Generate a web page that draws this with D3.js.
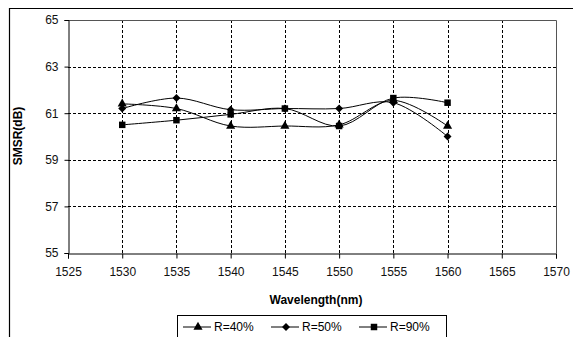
<!DOCTYPE html>
<html>
<head>
<meta charset="utf-8">
<script src="https://cdn.jsdelivr.net/npm/d3@7"></script>
<style>
  body { margin: 0; background: #fff; }
  svg { display: block; font-family: "Liberation Sans", Arial, sans-serif; }
</style>
</head>
<body>
<svg id="chart" width="573" height="337"></svg>
<script>
// wavelengths (nm) and SMSR values (dB)
const wavelengths = [1530, 1535, 1540, 1545, 1550, 1555, 1560];
const r40 = [61.4, 61.2, 60.45, 60.45, 60.5, 61.55, 60.45];
const r50 = [61.2, 61.65, 61.15, 61.2, 61.2, 61.45, 60.0];
const r90 = [60.5, 60.7, 60.95, 61.2, 60.45, 61.65, 61.45];
const xTicks = [1525, 1530, 1535, 1540, 1545, 1550, 1555, 1560, 1565, 1570];
const yTicks = [55, 57, 59, 61, 63, 65];

const series = [
  { name: "R=40%", values: r40, symbol: d3.symbolTriangle, size: 36 },
  { name: "R=50%", values: r50, symbol: d3.symbolDiamond2 || d3.symbolDiamond, size: 40 },
  { name: "R=90%", values: r90, symbol: d3.symbolSquare, size: 42 }
];

const svg = d3.select("#chart");
const pLeft = 68, pRight = 556, pTop = 20, pBottom = 253;

const x = d3.scaleLinear().domain([1525, 1570]).range([pLeft, pRight]);
const y = d3.scaleLinear().domain([55, 65]).range([pBottom, pTop]);

// outer frame (only left/top visible in the picture)
svg.append("path")
    .attr("d", "M9.5,337 V8.5 H573")
    .attr("fill", "none")
    .attr("stroke", "#000")
    .attr("stroke-width", 1.2);

// grid
const grid = svg.append("g").attr("stroke", "#000").attr("stroke-dasharray", "3,2").attr("stroke-width", 1);
grid.selectAll(".vg")
    .data(xTicks.filter(t => t > 1525 && t < 1570))
    .join("line")
    .attr("x1", d => Math.round(x(d)) + 0.5).attr("x2", d => Math.round(x(d)) + 0.5)
    .attr("y1", pTop).attr("y2", pBottom);
grid.selectAll(".hg")
    .data(yTicks.filter(t => t > 55 && t < 65))
    .join("line")
    .attr("y1", d => Math.round(y(d)) + 0.5).attr("y2", d => Math.round(y(d)) + 0.5)
    .attr("x1", pLeft).attr("x2", pRight);

// plot border top/right
svg.append("path")
    .attr("d", `M${pLeft},${pTop + 0.5} H${pRight + 0.5} V${pBottom}`)
    .attr("fill", "none")
    .attr("stroke", "#555")
    .attr("stroke-width", 1);

// axes
const xAxis = svg.append("g")
    .attr("transform", `translate(0,${pBottom + 0.5})`)
    .call(d3.axisBottom(x).tickValues(xTicks).tickFormat(d3.format("d")).tickSize(5).tickPadding(9));
const yAxis = svg.append("g")
    .attr("transform", `translate(${pLeft + 0.5},0)`)
    .call(d3.axisLeft(y).tickValues(yTicks).tickSize(4).tickPadding(6));
[xAxis, yAxis].forEach(g => {
  g.select(".domain").attr("stroke", "#000");
  g.selectAll(".tick line").attr("stroke", "#000");
  g.selectAll("text").attr("font-size", 12).attr("fill", "#111")
    .attr("font-family", "'Liberation Sans', Arial, sans-serif");
});

// axis titles
svg.append("text")
    .attr("x", 316).attr("y", 304)
    .attr("text-anchor", "middle")
    .attr("font-size", 12).attr("font-weight", "bold")
    .text("Wavelength(nm)");
svg.append("text")
    .attr("transform", "translate(22,136) rotate(-90)")
    .attr("text-anchor", "middle")
    .attr("font-size", 12).attr("font-weight", "bold")
    .text("SMSR(dB)");

// lines
const line = d3.line()
    .x((d, i) => x(wavelengths[i]))
    .y(d => y(d))
    .curve(d3.curveCatmullRom.alpha(0.5));

series.forEach(s => {
  svg.append("path")
      .attr("d", line(s.values))
      .attr("fill", "none")
      .attr("stroke", "#000")
      .attr("stroke-width", 1);
});
series.forEach(s => {
  svg.append("g").selectAll("path")
      .data(s.values)
      .join("path")
      .attr("transform", (d, i) => `translate(${x(wavelengths[i])},${y(d)})`)
      .attr("d", d3.symbol(s.symbol, s.size))
      .attr("fill", "#000");
});

// legend
const legend = svg.append("g");
legend.append("rect")
    .attr("x", 177.5).attr("y", 315.5)
    .attr("width", 269).attr("height", 30)
    .attr("fill", "#fff").attr("stroke", "#000");
const legX = [183, 271, 359];
series.forEach((s, i) => {
  const g = legend.append("g").attr("transform", `translate(${legX[i]},327)`);
  g.append("line").attr("x1", 0).attr("x2", 28).attr("stroke", "#000");
  g.append("path").attr("transform", "translate(15,0)").attr("d", d3.symbol(s.symbol, s.size)).attr("fill", "#000");
  g.append("text").attr("x", 31).attr("y", 4).attr("font-size", 12).text(s.name);
});
</script>
</body>
</html>
